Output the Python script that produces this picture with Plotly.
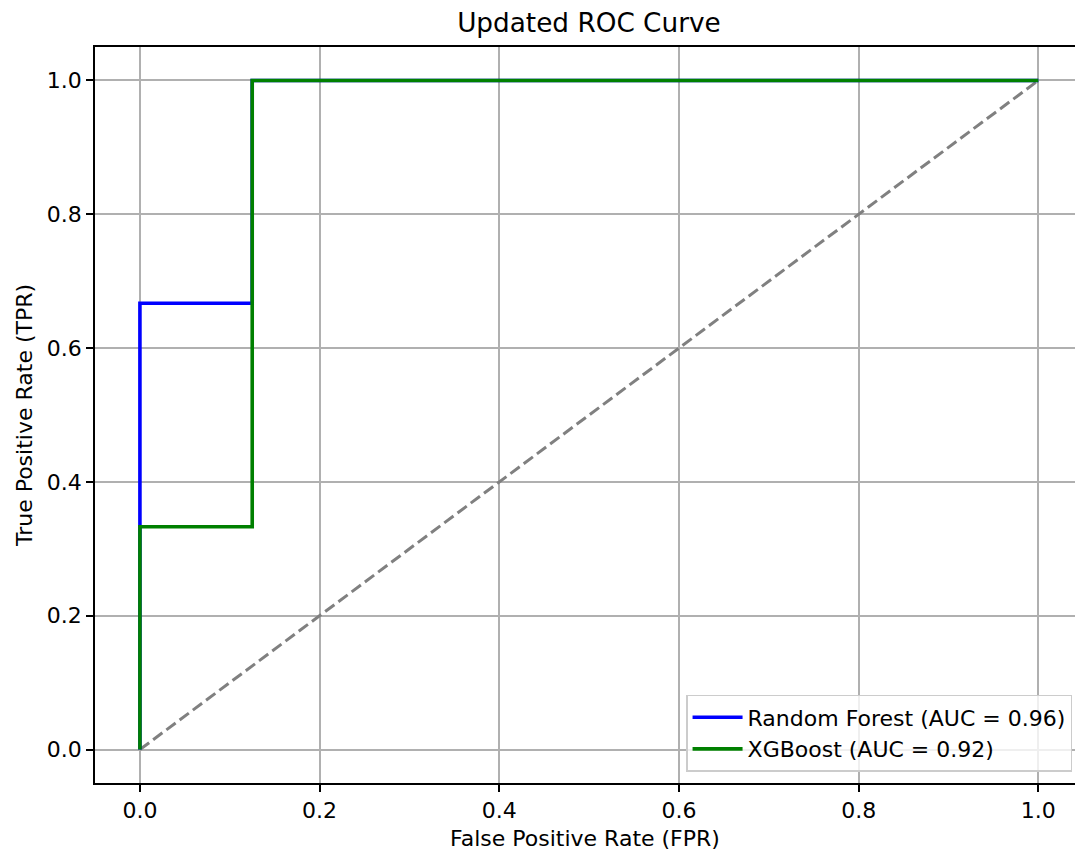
import plotly.graph_objects as go

rf_fpr = [0.0, 0.0, 0.0, 0.125, 0.125, 1.0]
rf_tpr = [0.0, 0.333, 0.667, 0.667, 1.0, 1.0]
xgb_fpr = [0.0, 0.0, 0.125, 0.125, 1.0]
xgb_tpr = [0.0, 0.333, 0.333, 1.0, 1.0]
diag = [0.0, 1.0]
rf_label = "Random Forest (AUC = 0.96)"
xgb_label = "XGBoost (AUC = 0.92)"
tick_vals = [0.0, 0.2, 0.4, 0.6, 0.8, 1.0]

fig = go.Figure()
fig.add_trace(go.Scatter(x=diag, y=diag, mode="lines", showlegend=False,
                         line=dict(color="#808080", width=3, dash="11.5px,5px")))
fig.add_trace(go.Scatter(x=rf_fpr, y=rf_tpr, mode="lines", name=rf_label,
                         line=dict(color="#0000ff", width=3.6)))
fig.add_trace(go.Scatter(x=xgb_fpr, y=xgb_tpr, mode="lines", name=xgb_label,
                         line=dict(color="#008000", width=3.6)))

font = dict(family="DejaVu Sans", size=22, color="#000000")
fig.update_layout(
    width=1075, height=852,
    margin=dict(l=95, r=0, t=47, b=69),
    paper_bgcolor="white", plot_bgcolor="white",
    font=font,
    title=dict(text="Updated ROC Curve", x=0.504, xref="paper", xanchor="center",
               y=1 - 22.5 / 852, yanchor="middle",
               font=dict(family="DejaVu Sans", size=26.3, color="#000000")),
    legend=dict(x=0.997, y=0.015, xanchor="right", yanchor="bottom",
                bgcolor="rgba(255,255,255,0.8)", bordercolor="#cccccc", borderwidth=1.5,
                font=dict(family="DejaVu Sans", size=22, color="#000000"),
                itemwidth=50, tracegroupgap=0),
)
fig.update_xaxes(range=[-0.05, 1.0408], tickvals=tick_vals, tickformat=".1f",
                 showgrid=True, gridcolor="#b0b0b0", gridwidth=1.6,
                 showline=True, linecolor="#000000", linewidth=1.6, mirror=True,
                 ticks="outside", ticklen=7, tickwidth=1.6, tickcolor="#000000", zeroline=False,
                 tickfont=font,
                 title=dict(text="False Positive Rate (FPR)", standoff=8, font=font))
fig.update_yaxes(range=[-0.05, 1.05], tickvals=tick_vals, tickformat=".1f",
                 showgrid=True, gridcolor="#b0b0b0", gridwidth=1.6,
                 showline=True, linecolor="#000000", linewidth=1.6, mirror=False,
                 ticks="outside", ticklen=7, tickwidth=1.6, tickcolor="#000000", zeroline=False,
                 tickfont=font,
                 title=dict(text="True Positive Rate (TPR)", standoff=8, font=font))

fig.write_html("out.html", config={"displayModeBar": False},
               post_script="document.body.style.margin='0px';document.body.style.overflow='hidden';")
